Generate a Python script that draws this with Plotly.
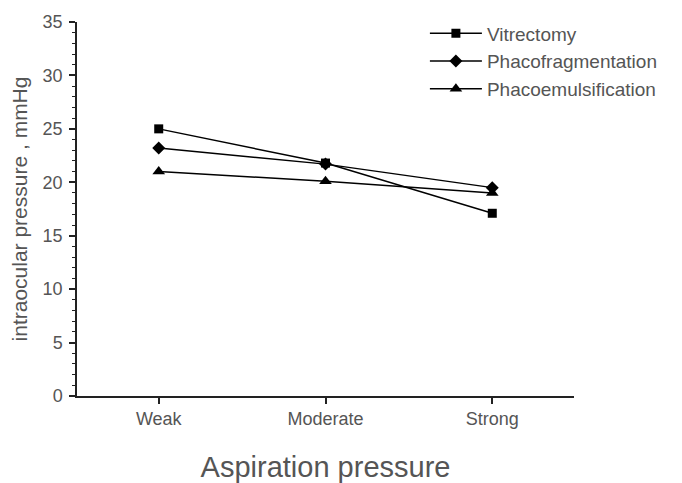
import plotly.graph_objects as go

categories = ["Weak", "Moderate", "Strong"]
vitrectomy = [25.0, 21.8, 17.1]
phacofragmentation = [23.2, 21.7, 19.5]
phacoemulsification = [21.0, 20.1, 19.0]

series = [
    ("Vitrectomy", vitrectomy, "square", 9),
    ("Phacofragmentation", phacofragmentation, "diamond", 10),
    ("Phacoemulsification", phacoemulsification, "triangle-up", 11),
]

fig = go.Figure()
for name, vals, sym, size in series:
    fig.add_trace(go.Scatter(
        x=[0, 1, 2], y=vals, name=name, mode="lines+markers",
        line=dict(color="black", width=1.5),
        marker=dict(symbol=sym, size=size, color="black"),
    ))

# page body has an 8px default margin, so the figure is sized/margined to compensate
fig.update_layout(
    width=674, height=475,
    margin=dict(l=69, r=108, t=14, b=87, autoexpand=False),
    plot_bgcolor="white", paper_bgcolor="white",
    font=dict(family="Liberation Sans, Arial, sans-serif", color="#555555"),
    showlegend=True,
    legend=dict(x=0.70, y=1.02, xanchor="left", yanchor="top",
                font=dict(size=19, color="#555555"),
                bgcolor="rgba(0,0,0,0)", tracegroupgap=0, itemwidth=52),
    xaxis=dict(
        range=[-0.49, 2.49], tickvals=[0, 1, 2], ticktext=categories,
        showgrid=False, zeroline=False, showline=True, linecolor="#222222", linewidth=1.5,
        ticks="outside", ticklen=6, tickwidth=1.5, tickcolor="#222222",
        tickfont=dict(size=18, color="#555555"),
        title=dict(text="Aspiration pressure", font=dict(size=29, color="#555555"), standoff=36),
    ),
    yaxis=dict(
        range=[0, 35], dtick=5, showgrid=False, zeroline=False,
        showline=True, linecolor="#222222", linewidth=1.5,
        ticks="outside", ticklen=6, tickwidth=1.5, tickcolor="#222222",
        tickfont=dict(size=18, color="#555555"), ticklabelstandoff=3,
        minor=dict(dtick=1, ticks="outside", ticklen=3, tickwidth=1, tickcolor="#222222", showgrid=False),
        title=dict(text="intraocular pressure , mmHg", font=dict(size=21, color="#555555"), standoff=29),
    ),
)

fig.write_html("out.html")
